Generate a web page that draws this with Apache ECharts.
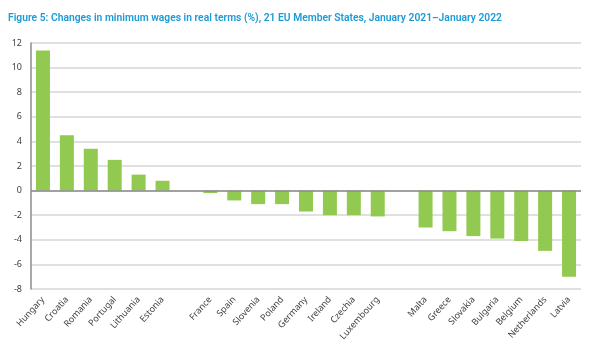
<!DOCTYPE html>
<html>
<head>
<meta charset="utf-8">
<script src="https://cdn.jsdelivr.net/npm/echarts@6/dist/echarts.min.js"></script>
<style>
  html, body { margin: 0; padding: 0; background: #fff; }
  #chart { width: 604px; height: 351px; }
</style>
</head>
<body>
<div id="chart"></div>
<script>
// empty names are the spacer slots between the three country groups
const countries = [
  'Hungary', 'Croatia', 'Romania', 'Portugal', 'Lithuania', 'Estonia', '',
  'France', 'Spain', 'Slovenia', 'Poland', 'Germany', 'Ireland', 'Czechia', 'Luxembourg', '',
  'Malta', 'Greece', 'Slovakia', 'Bulgaria', 'Belgium', 'Netherlands', 'Latvia'
];
const realChange = [
  11.4, 4.5, 3.4, 2.5, 1.3, 0.8, null,
  -0.2, -0.8, -1.1, -1.1, -1.7, -2.0, -2.0, -2.1, null,
  -3.0, -3.3, -3.7, -3.9, -4.1, -4.9, -7.0
];
const yMin = -8;
const yMax = 12;
const yStep = 2;

const chart = echarts.init(document.getElementById('chart'));

chart.setOption({
  animation: false,
  title: {
    text: 'Figure 5: Changes in minimum wages in real terms (%), 21 EU Member States, January 2021\u2013January 2022',
    left: 3,
    top: 8,
    textStyle: {
      fontFamily: 'Roboto',
      fontSize: 10.3,
      fontWeight: 600,
      color: '#1b9bd7'
    }
  },
  grid: { left: 31, right: 23, top: 43, bottom: 62 },
  xAxis: {
    type: 'category',
    data: countries,
    axisLine: { onZero: false, show: false },
    axisTick: { show: false },
    axisLabel: {
      interval: 0,
      rotate: 48,
      margin: 9,
      fontFamily: 'Noto Sans',
      fontSize: 9,
      color: '#404040'
    }
  },
  yAxis: {
    type: 'value',
    min: yMin,
    max: yMax,
    interval: yStep,
    axisLine: { show: true, lineStyle: { color: '#8c8c8c', width: 1.5 } },
    axisTick: { show: false },
    axisLabel: {
      margin: 9,
      fontFamily: 'Noto Sans',
      fontSize: 9,
      color: '#404040'
    },
    splitLine: { lineStyle: { color: '#d6d6d6', width: 1.5 } }
  },
  series: [{
    type: 'bar',
    data: realChange,
    barWidth: 14,
    itemStyle: { color: '#92c951' },
    markLine: {
      silent: true,
      symbol: 'none',
      label: { show: false },
      lineStyle: { color: '#8c8c8c', type: 'solid', width: 1.5 },
      data: [{ yAxis: 0 }]
    }
  }]
});
</script>
</body>
</html>
